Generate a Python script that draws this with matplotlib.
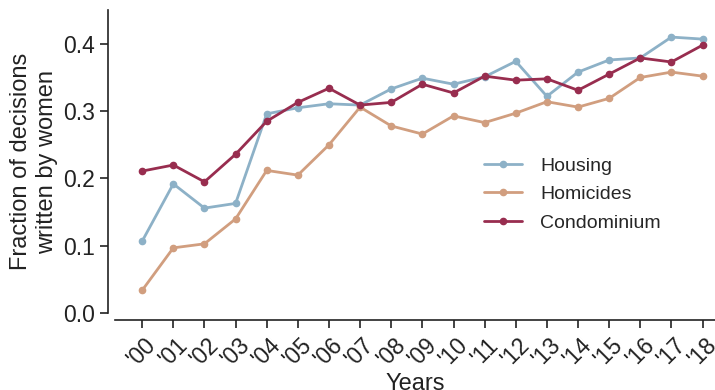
import matplotlib

matplotlib.use("Agg")
import matplotlib.pyplot as plt
import numpy as np
import seaborn as sns

years = ["'00", "'01", "'02", "'03", "'04", "'05", "'06", "'07", "'08", "'09",
         "'10", "'11", "'12", "'13", "'14", "'15", "'16", "'17", "'18"]
housing = [0.107, 0.192, 0.156, 0.163, 0.296, 0.305, 0.311, 0.309, 0.333, 0.349,
           0.340, 0.351, 0.374, 0.322, 0.358, 0.376, 0.379, 0.410, 0.407]
homicides = [0.034, 0.097, 0.103, 0.140, 0.212, 0.205, 0.250, 0.306, 0.278, 0.266,
             0.293, 0.283, 0.297, 0.314, 0.306, 0.319, 0.350, 0.358, 0.352]
condominium = [0.211, 0.220, 0.195, 0.236, 0.285, 0.313, 0.334, 0.309, 0.313, 0.340,
               0.327, 0.352, 0.346, 0.348, 0.331, 0.355, 0.379, 0.373, 0.398]

sns.set_style("ticks")
plt.rcParams["font.family"] = ["Liberation Sans", "DejaVu Sans"]

fig = plt.figure(figsize=(7.15, 3.9), dpi=100)
ax = fig.add_axes([0.161, 0.197, 0.839, 0.777])
x = np.arange(len(years))
for vals, color, label in ((housing, "#8db1c7", "Housing"),
                           (homicides, "#d19e7f", "Homicides"),
                           (condominium, "#982d4f", "Condominium")):
    ax.plot(x, vals, color=color, lw=2, marker="o", ms=4.5, label=label)

ax.set_xlim(-0.87, 18.4)
ax.set_ylim(0, 0.45)
ax.set_yticks([0.0, 0.1, 0.2, 0.3, 0.4])
ax.set_xticks(x)
ax.set_xticklabels(years)
ax.tick_params(labelsize=16.5, length=6, width=1.2, colors="#222222")
ax.tick_params(axis="x", labelrotation=45)
ax.set_xlabel("Years", fontsize=17, color="#222222", labelpad=2)
ax.set_ylabel("Fraction of decisions\nwritten by women", fontsize=17, color="#222222")
sns.despine(ax=ax, offset=5)
for s in ("left", "bottom"):
    ax.spines[s].set_linewidth(1.2)
    ax.spines[s].set_color("#222222")
ax.legend(frameon=False, fontsize=14, loc="upper left", bbox_to_anchor=(0.585, 0.572),
          handlelength=2.0, handletextpad=0.9, labelspacing=0.55)

fig.savefig("out.png", dpi=100)
